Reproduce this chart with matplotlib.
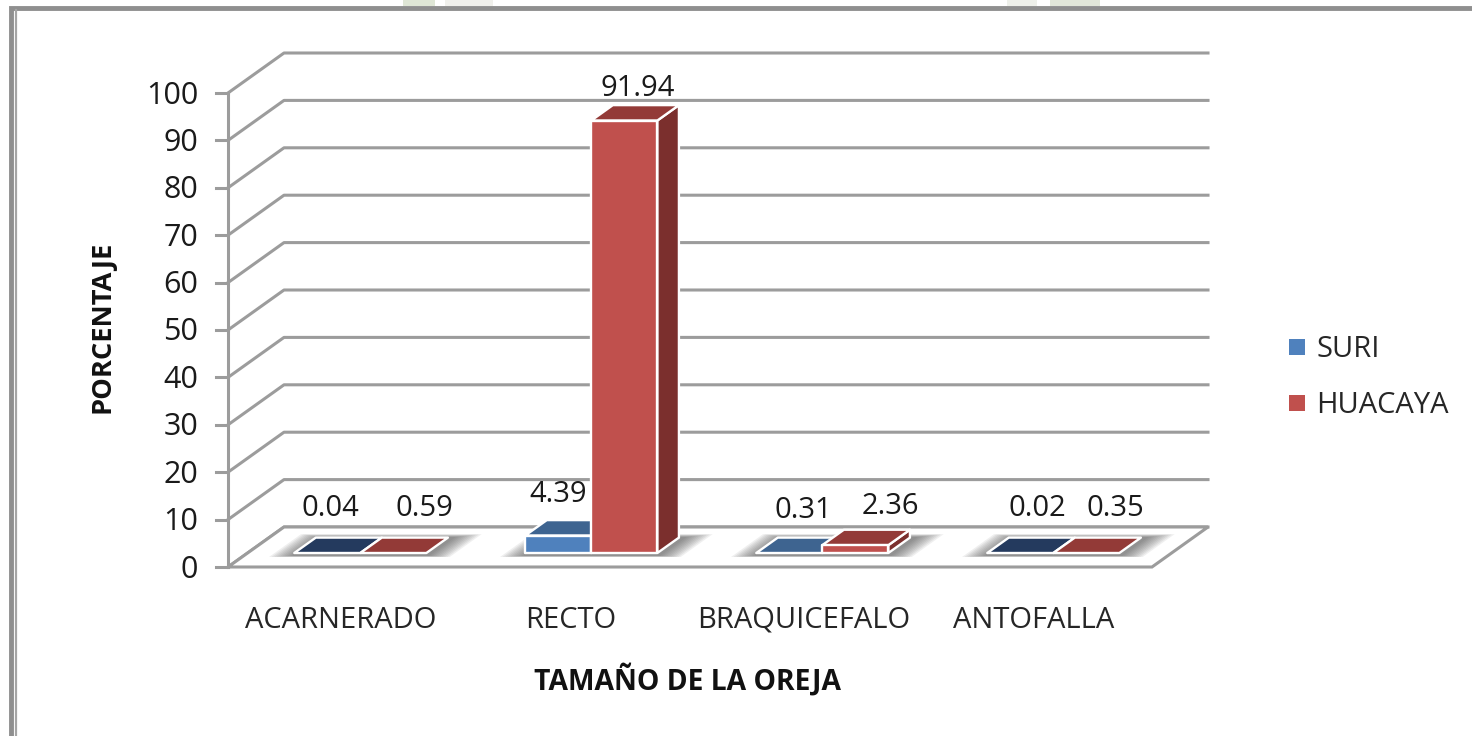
"""3D-look clustered bars (oreja de alpacas), drawn by hand with an oblique projection."""
import matplotlib
matplotlib.use("Agg")
import matplotlib.pyplot as plt
from matplotlib.patches import Polygon, Rectangle

plt.rcParams["font.family"] = ["Open Sans", "DejaVu Sans"]

# ===== DATA =====
categories = ["ACARNERADO", "RECTO", "BRAQUICEFALO", "ANTOFALLA"]
series_names = ["SURI", "HUACAYA"]
suri = [0.04, 4.39, 0.31, 0.02]
huacaya = [0.59, 91.94, 2.36, 0.35]
y_ticks = [0, 10, 20, 30, 40, 50, 60, 70, 80, 90, 100]

# ===== LAYOUT (pixels) =====
X0, Y0 = 228, 567        # front corner of the floor at value 0
CAT_W = 231              # width of one category
PX_PER_UNIT = 4.74       # pixels per 1 %
DEPTH_X, DEPTH_Y = 56, 40   # chart depth
BAR_D0, BAR_D1 = 0.267, 0.652  # bar depth range, fraction of chart depth
BAR_START, BAR_W = 0.222, 0.286   # in category units
FLOOR_V = 0.7            # the floor slab hides this much of every bar

LABEL_XY = {"SURI": [(330, 509), (558, 494), (803, 511), (1037, 509)],
            "HUACAYA": [(424, 509), (638, 88), (890, 506), (1115, 508)]}
CAT_LABEL_X = [341, 571, 804, 1034]
WATERMARK = [(403, 32, "#dfe6d6"), (445, 48, "#f0f0ec"), (1007, 30, "#eef0ea"), (1050, 50, "#e2e7da")]

GRID = "#9c9c9c"
FRONT = {"SURI": "#4f81bd", "HUACAYA": "#c0504d"}
TOP = {"SURI": "#3e6490", "HUACAYA": "#933a37"}
TOP_FLAT_SURI = "#243a5e"    # the tiniest bars come out darker
SIDE = {"SURI": "#2f4d70", "HUACAYA": "#7b2f2d"}
TICK_FS = 22
LABEL_FS = 21
TITLE_FS = 20.3


def proj(cat, value, depth):
    """category units, % value, depth fraction -> pixel position"""
    return (X0 + cat * CAT_W + depth * DEPTH_X,
            Y0 - value * PX_PER_UNIT - depth * DEPTH_Y)


def box(ax, left, value, name):
    right = left + BAR_W
    top_col = TOP[name]
    if name == "SURI" and value < 0.1:
        top_col = TOP_FLAT_SURI
    base = FLOOR_V
    top = max(value, FLOOR_V)
    edge = dict(edgecolor="white", linewidth=1.7, joinstyle="round")
    if top > base:
        ax.add_patch(Polygon([proj(right, base, BAR_D0), proj(right, base, BAR_D1),
                              proj(right, top, BAR_D1), proj(right, top, BAR_D0)],
                             facecolor=SIDE[name], zorder=5, **edge))
    ax.add_patch(Polygon([proj(left, top, BAR_D0), proj(right, top, BAR_D0),
                          proj(right, top, BAR_D1), proj(left, top, BAR_D1)],
                         facecolor=top_col, zorder=5, **edge))
    if top > base:
        ax.add_patch(Polygon([proj(left, base, BAR_D0), proj(right, base, BAR_D0),
                              proj(right, top, BAR_D0), proj(left, top, BAR_D0)],
                             facecolor=FRONT[name], zorder=5, **edge))


def main():
    fig = plt.figure(figsize=(14.72, 7.36), dpi=100)
    ax = fig.add_axes([0, 0, 1, 1])
    ax.set_xlim(0, 1472)
    ax.set_ylim(736, 0)
    ax.axis("off")

    # scraps of the page watermark above the frame
    for wx, ww, col in WATERMARK:
        ax.add_patch(Rectangle((wx, 0), ww, 6, facecolor=col, lw=0, zorder=0))

    # page frame
    ax.plot([11, 11, 1472], [736, 8, 8], color="#8f8f8f", lw=3.5, solid_joinstyle="miter")
    ax.plot([16, 16], [10, 736], color="#a5a5a5", lw=1.6)

    # walls
    n = len(categories)
    for v in y_ticks:
        xa, ya = proj(0, v, 0)
        xb, yb = proj(0, v, 1)
        xc, yc = proj(n, v, 1)
        ax.plot([xa, xb, xc], [ya, yb, yc], color=GRID, lw=2.2, zorder=1,
                solid_joinstyle="round")
        ax.plot([xa - 12, xa], [ya, ya], color=GRID, lw=2.2, zorder=1)
        ax.text(198, ya + 2.5, str(v), ha="right", va="center", fontsize=TICK_FS, color="#1a1a1a")
    ax.plot(*zip(proj(0, 0, 0), proj(0, y_ticks[-1], 0)), color=GRID, lw=2.2, zorder=1)

    # floor
    ax.add_patch(Polygon([proj(0, 0, 0), proj(n, 0, 0), proj(n, 0, 1), proj(0, 0, 1)],
                         facecolor="white", edgecolor=GRID, lw=2.2, zorder=2))

    # soft shadow under each group, stacked translucent layers
    for i in range(n):
        left = i + BAR_START
        right = left + 2 * BAR_W
        for k in range(10):
            t = k / 10
            grow = 0.105 * (1 - t)
            d0, d1 = 0.25 + 0.03 * t, 0.82 - 0.08 * t
            ax.add_patch(Polygon([proj(left - grow, 0, d0), proj(right + grow, 0, d0),
                                  proj(right + grow, 0, d1), proj(left - grow, 0, d1)],
                                 facecolor="#4a4a4a", alpha=0.085, lw=0, zorder=3))

    # bars
    for i in range(n):
        box(ax, i + BAR_START, suri[i], "SURI")
        box(ax, i + BAR_START + BAR_W, huacaya[i], "HUACAYA")

    # value labels
    for name, vals in zip(series_names, (suri, huacaya)):
        for v, (lx, ly) in zip(vals, LABEL_XY[name]):
            ax.text(lx, ly, f"{v:.2f}", ha="center", va="center", fontsize=LABEL_FS,
                    color="#1a1a1a", zorder=6)

    # category labels and titles
    for c, lx in zip(categories, CAT_LABEL_X):
        ax.text(lx, 628, c, ha="center", va="baseline", fontsize=LABEL_FS, color="#262626")
    ax.text(687, 690, "TAMAÑO DE LA OREJA", ha="center", va="baseline", fontsize=TITLE_FS,
            fontweight="bold", color="#111111")
    ax.text(103, 327, "PORCENTAJE", ha="center", va="center", rotation=90,
            fontsize=19.6, fontweight="bold", color="#111111")

    # legend
    for name, ly in zip(series_names, (347, 403)):
        ax.add_patch(Rectangle((1289, ly - 8), 16, 16, facecolor=FRONT[name], lw=0))
        ax.text(1316, ly + 10, name, ha="left", va="baseline", fontsize=LABEL_FS, color="#262626")

    fig.savefig("out.png", dpi=100, facecolor="white")


if __name__ == "__main__":
    main()
